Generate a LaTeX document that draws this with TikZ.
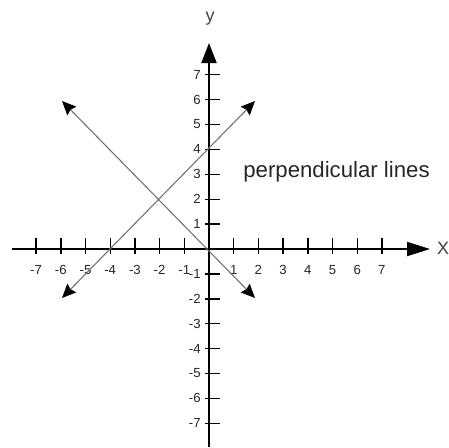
\documentclass[tikz,border=0pt]{standalone}
\usepackage{fontspec}
\setmainfont{Liberation Sans}
\usetikzlibrary{arrows.meta}
\begin{document}
\begin{tikzpicture}[x=0.5pt,y=-0.5pt,
  axisline/.style={line width=1pt,black},
  pline/.style={line width=0.55pt,black!55},
  tickmark/.style={line width=0.7pt,black},
  ticklabel/.style={font=\fontsize{6.6}{7}\selectfont,inner sep=0pt,text=black!85},
  axislabel/.style={font=\fontsize{9}{10}\selectfont,inner sep=0pt,text=black!75},
  titlelabel/.style={font=\fontsize{11.1}{13}\selectfont,inner sep=0pt,text=black!85},
  ltip/.tip={Stealth[length=7pt,width=6.2pt,inset=0.9pt,color=black]},
  bothtips/.style={ltip-ltip}
]
\useasboundingbox (0,0) rectangle (449,447);
% axes
\coordinate (xs) at (12,249);
\coordinate (xe) at (430,249);
\coordinate (ys) at (209,447);
\coordinate (ye) at (209,43);
\draw[axisline,-{Triangle[length=11.5pt,width=7pt]}] (xs) -- (xe);
\draw[axisline,-{Triangle[length=10pt,width=7.5pt]}] (ys) -- (ye);
\node[axislabel] (xlab) at (443,248) {X};
\node[axislabel] (ylab) at (210,19) {y};
% x ticks
\foreach \k in {-7,...,-1,1,2,...,7}{
  \draw[tickmark] ({209+24.7*\k},238) -- ({209+24.7*\k},254);
  \node[ticklabel] (xl\k) at ({209+24.7*\k},270) {\k};
}
% y ticks
\foreach \k in {-7,...,-1,1,2,...,7}{
  \draw[tickmark] (205,{249-24.9*\k}) -- (220,{249-24.9*\k});
  \node[ticklabel,anchor=east] (yl\k) at (201,{249-24.9*\k}) {\k};
}
% perpendicular lines
\coordinate (a1) at (62,298);
\coordinate (a2) at (255,101);
\coordinate (b1) at (62,101);
\coordinate (b2) at (255,298);
\draw[pline,bothtips] (a1) -- (a2);
\draw[pline,bothtips] (b1) -- (b2);
\node[titlelabel] (title) at (336.5,172) {perpendicular lines};
\end{tikzpicture}
\end{document}
